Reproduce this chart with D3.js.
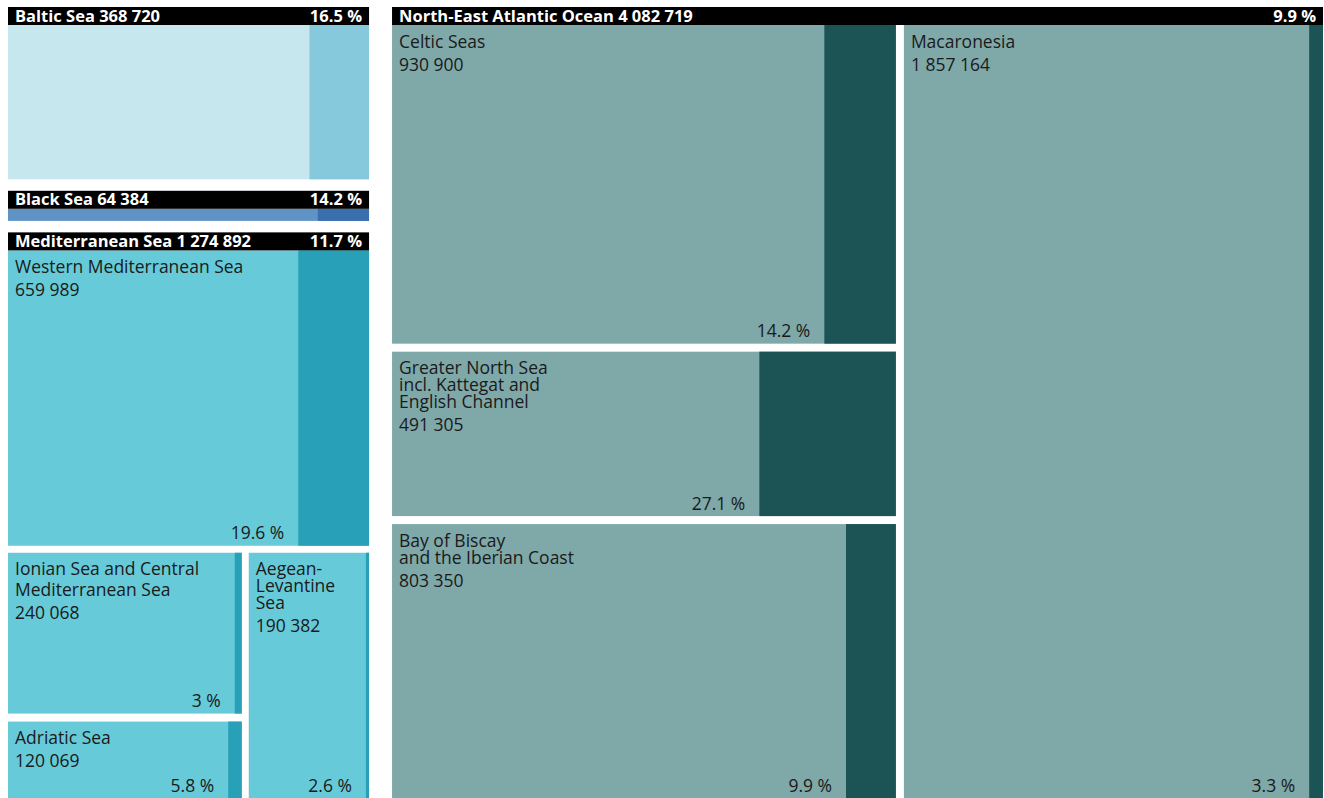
<!DOCTYPE html>
<html>
<head>
<meta charset="utf-8">
<script src="https://cdn.jsdelivr.net/npm/d3@7"></script>
<style>
  body { margin: 0; background: #fff; }
  #chart { width: 1324px; height: 798px; }
  text { font-family: "Open Sans", sans-serif; }
</style>
</head>
<body>
<div id="chart"></div>
<script>
// Sea regions (km2) and share protected (%)
var seaNames = ["Baltic Sea", "Black Sea", "Mediterranean Sea", "North-East Atlantic Ocean"];
var seaAreas = [368720, 64384, 1274892, 4082719];
var seaProtected = [16.5, 14.2, 11.7, 9.9];

// Sub-regions, with the sea they belong to
var subNames = [
  "Western Mediterranean Sea",
  "Ionian Sea and Central Mediterranean Sea",
  "Adriatic Sea",
  "Aegean-\nLevantine\nSea",
  "Celtic Seas",
  "Greater North Sea\nincl. Kattegat and\nEnglish Channel",
  "Bay of Biscay\nand the Iberian Coast",
  "Macaronesia"
];
var subSea = [2, 2, 2, 2, 3, 3, 3, 3];
var subAreas = [659989, 240068, 120069, 190382, 930900, 491305, 803350, 1857164];
var subProtected = [19.6, 3, 5.8, 2.6, 14.2, 27.1, 9.9, 3.3];

var lightColors = ["#c5e7ed", "#5f93c6", "#66cad8", "#7fa8a9"];
var darkColors = ["#86c8dc", "#3a6fae", "#28a0b7", "#1c5456"];

(function() {
  "use strict";

  var width = 1324;
  var height = 798;
  var bounds = {x0: 8, y0: 7, x1: 1323, y1: 798};
  var headerH = 18;
  var labelSize = 17.5;
  var fmt = function(v) { return d3.format(",")(v).replace(/,/g, " "); };
  var pctFmt = function(v) { return String(v).replace(/\.0$/, "") + " %"; };

  var tree = {name: "root", children: seaNames.map(function(n, i) {
    var kids = [];
    subNames.forEach(function(s, j) {
      if (subSea[j] === i) {
        kids.push({name: s, value: subAreas[j], pct: subProtected[j], sea: i});
      }
    });
    var sea = {name: n, total: seaAreas[i], pct: seaProtected[i], sea: i};
    if (kids.length) { sea.children = kids; } else { sea.value = seaAreas[i]; }
    return sea;
  })};

  var root = d3.hierarchy(tree).sum(function(d) { return d.children ? 0 : d.value; });
  var seas = root.children;
  var baltic = seas[0], black = seas[1], med = seas[2], nea = seas[3];
  var medKids = med.children, neaKids = nea.children;

  function group(items) {
    return {items: items, value: d3.sum(items, function(d) { return d.value; })};
  }

  // split a rect along one axis in proportion to value. With "expand" the
  // gap is shared out like d3.treemap padding (rect grown by gap/2, then each
  // piece shrunk by gap/2), otherwise gaps are taken off first.
  function splitRect(items, r, horizontal, gap, expand) {
    var a0 = horizontal ? r.x0 : r.y0;
    var a1 = horizontal ? r.x1 : r.y1;
    var p = expand ? gap / 2 : 0;
    var span = expand ? (a1 - a0 + gap) : (a1 - a0 - gap * (items.length - 1));
    var scale = d3.scaleLinear()
      .domain([0, d3.sum(items, function(d) { return d.value; })])
      .range([0, span]);
    var pos = a0 - p;
    items.forEach(function(item) {
      var len = scale(item.value);
      var s = pos + p, e = pos + len - p;
      item.x0 = horizontal ? s : r.x0;
      item.x1 = horizontal ? e : r.x1;
      item.y0 = horizontal ? r.y0 : s;
      item.y1 = horizontal ? r.y1 : e;
      pos += len + (expand ? 0 : gap);
    });
  }

  var leftCol = group([baltic, black, med]);
  splitRect([leftCol, nea], bounds, true, 23, true);
  splitRect(leftCol.items, leftCol, false, 11.5, false);

  var medBottom = group([group([medKids[1], medKids[2]]), medKids[3]]);
  splitRect([medKids[0], medBottom],
    {x0: med.x0, y0: med.y0 + headerH, x1: med.x1, y1: med.y1}, false, 7, true);
  splitRect(medBottom.items, medBottom, true, 7, true);
  splitRect(medBottom.items[0].items, medBottom.items[0], false, 8, true);

  var neaLeft = group([neaKids[0], neaKids[1], neaKids[2]]);
  splitRect([neaLeft, neaKids[3]],
    {x0: nea.x0, y0: nea.y0 + headerH, x1: nea.x1, y1: nea.y1}, true, 8, true);
  splitRect(neaLeft.items, neaLeft, false, 8, true);

  // Baltic and Black Sea have no sub-regions: cell sits below the header
  [baltic, black].forEach(function(d) {
    d.cell = {x0: d.x0, y0: d.y0 + headerH, x1: d.x1, y1: d.y1};
  });
  medKids.concat(neaKids).forEach(function(d) {
    d.cell = {x0: d.x0, y0: d.y0, x1: d.x1, y1: d.y1};
  });

  var svg = d3.select("#chart").append("svg")
      .attr("width", width)
      .attr("height", height);

  var leaves = [baltic, black].concat(medKids, neaKids);
  leaves.forEach(function(d) {
    var share = d3.scaleLinear().domain([0, 100]).range([0, d.cell.x1 - d.cell.x0]);
    d.darkX = d.cell.x1 - share(d.data.pct);
  });

  var cells = svg.append("g").attr("class", "cells")
    .selectAll("g").data(leaves).enter().append("g");

  cells.append("rect")
      .attr("x", function(d) { return d.cell.x0; })
      .attr("y", function(d) { return d.cell.y0; })
      .attr("width", function(d) { return d.cell.x1 - d.cell.x0; })
      .attr("height", function(d) { return d.cell.y1 - d.cell.y0; })
      .attr("fill", function(d) { return lightColors[d.data.sea]; });

  cells.append("rect")
      .attr("x", function(d) { return d.darkX; })
      .attr("y", function(d) { return d.cell.y0; })
      .attr("width", function(d) { return d.cell.x1 - d.darkX; })
      .attr("height", function(d) { return d.cell.y1 - d.cell.y0; })
      .attr("fill", function(d) { return darkColors[d.data.sea]; });

  // black headers
  var headers = svg.append("g").attr("class", "headers")
    .selectAll("g").data(seas).enter().append("g");

  headers.append("rect")
      .attr("x", function(d) { return d.x0; })
      .attr("y", function(d) { return d.y0; })
      .attr("width", function(d) { return d.x1 - d.x0; })
      .attr("height", headerH)
      .attr("fill", "#000");

  headers.append("text")
      .attr("x", function(d) { return d.x0 + 7; })
      .attr("y", function(d) { return d.y0 + 14.5; })
      .attr("fill", "#fff")
      .attr("font-size", 16.5)
      .attr("font-weight", "bold")
      .text(function(d) { return d.data.name + " " + fmt(d.data.total); });

  headers.append("text")
      .attr("x", function(d) { return d.x1 - 7; })
      .attr("y", function(d) { return d.y0 + 14.5; })
      .attr("text-anchor", "end")
      .attr("fill", "#fff")
      .attr("font-size", 16.5)
      .attr("font-weight", "bold")
      .text(function(d) { return pctFmt(d.data.pct); });

  // sub-region labels
  var labels = svg.append("g").attr("class", "labels")
    .selectAll("g").data(medKids.concat(neaKids)).enter().append("g");

  labels.each(function(d) {
    var g = d3.select(this);
    var x = d.cell.x0 + 7;
    var y = d.cell.y0 + 22.5;
    var lines, lineH;
    if (d.data.name.indexOf("\n") >= 0) {
      lines = d.data.name.split("\n");
      lineH = 17;
    } else {
      lines = wrap(g, d.data.name, d.darkX - x - 6);
      lineH = 21;
    }
    lines.forEach(function(l, i) {
      g.append("text").attr("x", x).attr("y", y + i * lineH)
        .attr("font-size", labelSize).attr("fill", "#1a1a1a").text(l);
    });
    g.append("text").attr("x", x).attr("y", y + (lines.length - 1) * lineH + 23)
      .attr("font-size", labelSize).attr("fill", "#1a1a1a").text(fmt(d.data.value));
    g.append("text").attr("x", d.darkX - 14).attr("y", d.cell.y1 - 6.5)
      .attr("text-anchor", "end")
      .attr("font-size", labelSize).attr("fill", "#1a1a1a").text(pctFmt(d.data.pct));
  });

  function wrap(g, str, maxW) {
    var words = str.split(" ");
    var probe = g.append("text").attr("font-size", labelSize);
    var out = [];
    var cur = "";
    words.forEach(function(w) {
      var test = cur ? cur + " " + w : w;
      probe.text(test);
      if (cur && probe.node().getComputedTextLength() > maxW) {
        out.push(cur);
        cur = w;
      } else {
        cur = test;
      }
    });
    if (cur) { out.push(cur); }
    probe.remove();
    return out;
  }
})();
</script>
</body>
</html>
